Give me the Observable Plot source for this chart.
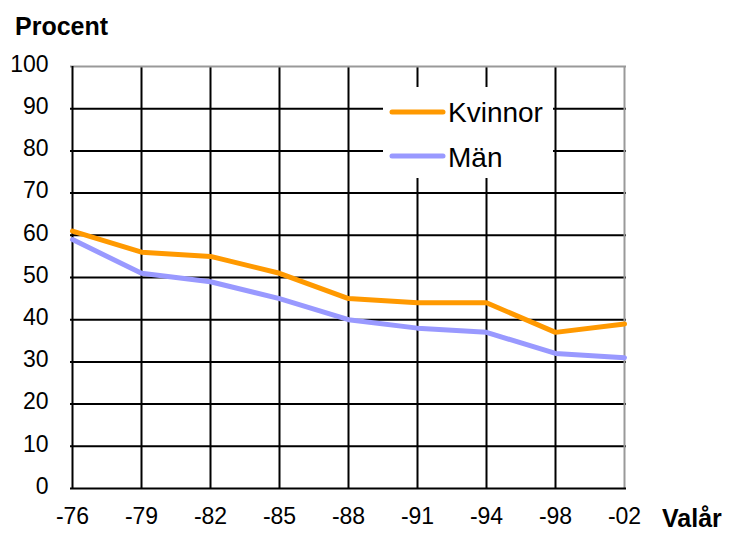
<!DOCTYPE html>
<html>
<head>
<meta charset="utf-8">
<script src="https://cdn.jsdelivr.net/npm/d3@7"></script>
<script src="https://cdn.jsdelivr.net/npm/@observablehq/plot@0.6"></script>
<style>
  html, body { margin: 0; padding: 0; background: #fff; }
</style>
</head>
<body>
<script>
const years = ["-76", "-79", "-82", "-85", "-88", "-91", "-94", "-98", "-02"];
const kvinnor = [61, 56, 55, 51, 45, 44, 44, 37, 39];
const man = [59, 51, 49, 45, 40, 38, 37, 32, 31];
const yTicks = [0, 10, 20, 30, 40, 50, 60, 70, 80, 90, 100];
const seriesNames = ["Kvinnor", "Män"];
const seriesColors = ["#FF9900", "#9999FF"];

const data = [
  ...years.map((y, i) => ({year: y, value: kvinnor[i], serie: seriesNames[0]})),
  ...years.map((y, i) => ({year: y, value: man[i], serie: seriesNames[1]}))
];

const font = "'Liberation Sans', Arial, sans-serif";

const svg = Plot.plot({
  width: 730,
  height: 533,
  marginLeft: 70,
  marginRight: 104,
  marginTop: 66,
  marginBottom: 45,
  style: {fontFamily: font, fontSize: "23px", background: "#fff", color: "#000", overflow: "visible"},
  x: {type: "point", domain: years, padding: 0, label: null},
  y: {domain: [0, 100], label: null},
  color: {domain: seriesNames, range: seriesColors},
  marks: [
    Plot.gridY(yTicks.filter(d => d > 0 && d < 100), {stroke: "#000", strokeOpacity: 1, strokeWidth: 2}),
    Plot.gridX(years.slice(1, -1), {stroke: "#000", strokeOpacity: 1, strokeWidth: 2}),
    Plot.ruleY([100], {stroke: "#999", strokeWidth: 2}),
    Plot.ruleX([years[years.length - 1]], {stroke: "#999", strokeWidth: 2}),
    Plot.ruleX([years[0]], {stroke: "#000", strokeWidth: 2}),
    Plot.ruleY([0], {stroke: "#000", strokeWidth: 2}),
    Plot.line(data, {x: "year", y: "value", z: "serie", stroke: "serie", strokeWidth: 5, strokeLinejoin: "miter"}),
    Plot.axisY({ticks: yTicks, tickSize: 0, tickPadding: 22, dy: -2, fill: "#000"}),
    Plot.axisX({tickSize: 0, tickPadding: 19, fill: "#000"})
  ]
});

const s = d3.select(svg);

s.append("text")
  .attr("x", 15).attr("y", 35)
  .attr("text-anchor", "start")
  .attr("font-family", font).attr("font-size", 25).attr("font-weight", "bold")
  .attr("fill", "#000")
  .text("Procent");

s.append("text")
  .attr("x", 662).attr("y", 527)
  .attr("text-anchor", "start")
  .attr("font-family", font).attr("font-size", 25).attr("font-weight", "bold")
  .attr("fill", "#000")
  .text("Valår");

const lg = s.append("g");
lg.append("rect").attr("x", 383).attr("y", 87).attr("width", 170).attr("height", 91).attr("fill", "#fff");
seriesNames.forEach((name, i) => {
  const cy = 112 + i * 44;
  lg.append("line")
    .attr("x1", 392).attr("x2", 443).attr("y1", cy).attr("y2", cy)
    .attr("stroke", seriesColors[i]).attr("stroke-width", 5).attr("stroke-linecap", "round");
  lg.append("text")
    .attr("x", 448).attr("y", cy + 10 + i)
    .attr("text-anchor", "start")
    .attr("font-family", font).attr("font-size", 28).attr("fill", "#000")
    .text(name);
});

document.body.appendChild(svg);
</script>
</body>
</html>
